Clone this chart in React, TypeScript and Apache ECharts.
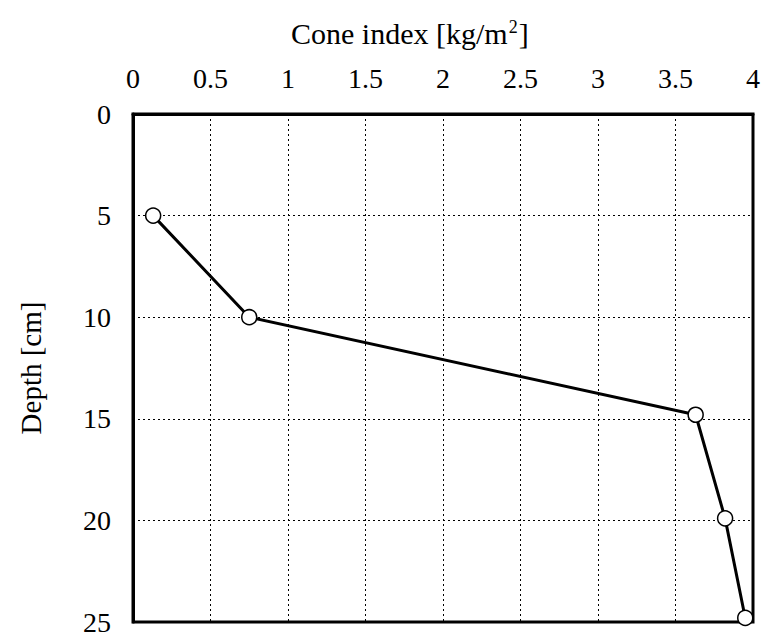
import React, { useEffect, useRef } from "react";
import * as echarts from "echarts";

const coneIndex = [0.13, 0.75, 3.63, 3.82, 3.95];
const depth = [5, 10, 14.8, 19.9, 24.8];
const xTicks = [0, 0.5, 1, 1.5, 2, 2.5, 3, 3.5, 4];
const yTicks = [0, 5, 10, 15, 20, 25];

export default function App() {
  const ref = useRef<HTMLDivElement>(null);
  useEffect(() => {
    if (!ref.current) return;
    const chart = echarts.init(ref.current, null, { renderer: "svg" });
    const font = "'Liberation Serif', 'Times New Roman', serif";
    chart.setOption({
      animation: false,
      backgroundColor: "#fff",
      textStyle: { fontFamily: font, color: "#000" },
      graphic: [
        {
          type: "text",
          left: 283,
          top: 10,
          style: {
            text: "Cone index [kg/m{sup|2}]",
            font: `30px ${font}`,
            fill: "#000",
            rich: {
              sup: {
                fontSize: 18,
                fontFamily: font,
                fill: "#000",
                verticalAlign: "top",
                padding: [0, 1, 12, 1],
              },
            },
          },
        },
      ],
      grid: {
        left: 115,
        top: 106,
        width: 636,
        height: 515,
        show: true,
        borderColor: "#000",
        borderWidth: 3,
        backgroundColor: "transparent",
      },
      xAxis: {
        type: "value",
        position: "top",
        min: 0,
        max: 4,
        interval: 0.5,
        axisLine: { show: true, lineStyle: { color: "#000", width: 3 } },
        axisTick: { show: false },
        axisLabel: {
          margin: 22,
          fontSize: 28,
          color: "#000",
          fontFamily: font,
          formatter: (v: number) => (xTicks.includes(v) ? String(v) : ""),
        },
        splitLine: { show: true, lineStyle: { color: "#000", type: [2, 3], width: 1 } },
      },
      yAxis: {
        type: "value",
        inverse: true,
        min: 0,
        max: 25,
        interval: 5,
        name: "Depth [cm]",
        nameLocation: "middle",
        nameGap: 88,
        nameRotate: 90,
        nameTextStyle: { fontSize: 29, color: "#000", fontFamily: font },
        axisLine: { show: true, lineStyle: { color: "#000", width: 3 } },
        axisTick: { show: false },
        axisLabel: {
          margin: 22,
          fontSize: 28,
          color: "#000",
          fontFamily: font,
          formatter: (v: number) => (yTicks.includes(v) ? String(v) : ""),
        },
        splitLine: { show: true, lineStyle: { color: "#000", type: [2, 3], width: 1 } },
      },
      series: [
        {
          type: "line",
          data: coneIndex.map((c, i) => [c, depth[i]]),
          symbol: "circle",
          symbolSize: 15,
          showAllSymbol: true,
          lineStyle: { color: "#000", width: 3 },
          itemStyle: { color: "#fff", borderColor: "#000", borderWidth: 1.5 },
          clip: false,
          z: 5,
        },
      ],
    });
    return () => chart.dispose();
  }, []);
  return <div ref={ref} style={{ width: 755, height: 628 }} />;
}
